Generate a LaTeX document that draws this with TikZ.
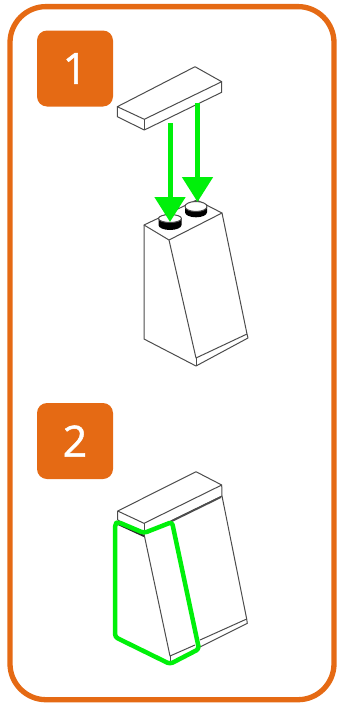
\documentclass[tikz,border=0pt]{standalone}
\usepackage{fontspec}
\newfontfamily\digitfont[FakeBold=1.2]{Open Sans}
\usetikzlibrary{arrows.meta}
\definecolor{frameorange}{RGB}{229,106,20}
\definecolor{arrowgreen}{RGB}{0,240,10}
\tikzset{
	badge/.style={fill=frameorange,rounded corners=10pt,minimum size=76pt,inner sep=0pt,
		text=white,font=\digitfont\fontsize{43}{43}\selectfont},
	brick/.style={draw=black!70,line width=1pt,line join=round},
	drop/.style={draw=arrowgreen,line width=5pt,-{Triangle[length=25pt,width=30pt]}},
	outline/.style={draw=arrowgreen,line width=4.5pt,line join=round,rounded corners=3pt}
}
\begin{document}
\begin{tikzpicture}[x=1pt,y=-1pt]
\useasboundingbox (0,0) rectangle (338,704);
\draw[frameorange,line width=5.3pt,rounded corners=36pt] (10,6.6) rectangle (334,699.7);
\node[badge] (one) at (75,68.5) {1};
\node[badge] (two) at (75,441) {2};
% plate above
\draw[brick] (117.3,106.7) -- (195,66.7) -- (221.7,81.7) -- (144.3,119.3) -- cycle;
\draw[brick] (117.3,106.7) -- (117.3,116.7) -- (144.3,130) -- (221.7,92.3) -- (221.7,81.7);
\draw[brick] (144.3,119.3) -- (144.3,130);
% block
\draw[brick] (144,225) -- (196.7,200) -- (222,213) -- (169,240) -- cycle;
\draw[brick] (144,225) -- (144,339) -- (196,366) -- (248,338) -- (247,334) -- (222,213);
\draw[brick] (169,240) -- (196,358) -- (247,334);
\draw[brick] (196,358) -- (196,366);
% studs
\fill (158.5,218.5) -- (158.5,225) arc(180:0:11.5 and 5) -- (181.5,218.5) -- cycle;
\draw[brick,fill=white] (170,218.5) ellipse (11.5 and 4);
\fill (185,206.5) -- (185,212.3) arc(180:0:11 and 5) -- (207,206.5) -- cycle;
\draw[brick,fill=white] (196,206.5) ellipse (11 and 5);
% arrows
\coordinate (fronttop) at (170,123);
\coordinate (frontstud) at (170,222);
\coordinate (reartop) at (197.5,103);
\coordinate (rearstud) at (197.5,202);
\draw[drop] (fronttop) -- (frontstud);
\draw[drop] (reartop) -- (rearstud);
% assembled, plate
\draw[brick] (117.7,511) -- (196,471.7) -- (221.7,485) -- (144,523.3) -- cycle;
\draw[brick] (117.7,511) -- (117.7,520) -- (144,534) -- (222,496) -- (221.7,485);
\draw[brick] (144,523.3) -- (144,534);
\draw[brick,line width=1.8pt] (172,521) -- (221,497);
\draw[brick,line width=2pt,draw=black!85] (118,524) -- (144,536);
% assembled, block
\draw[brick] (144,534) -- (170,656) -- (195,645);
\draw[brick] (222,496) -- (246.7,619) -- (247.3,623.3) -- (198,648);
\draw[brick] (200,640) -- (246.7,619);
\draw[brick] (170,656) -- (170,664);
% outline
\draw[outline] (118,522) -- (115,524) -- (115,637) -- (170,664) -- (199,649) -- (172,522) -- (144,533) -- cycle;
\end{tikzpicture}
\end{document}
